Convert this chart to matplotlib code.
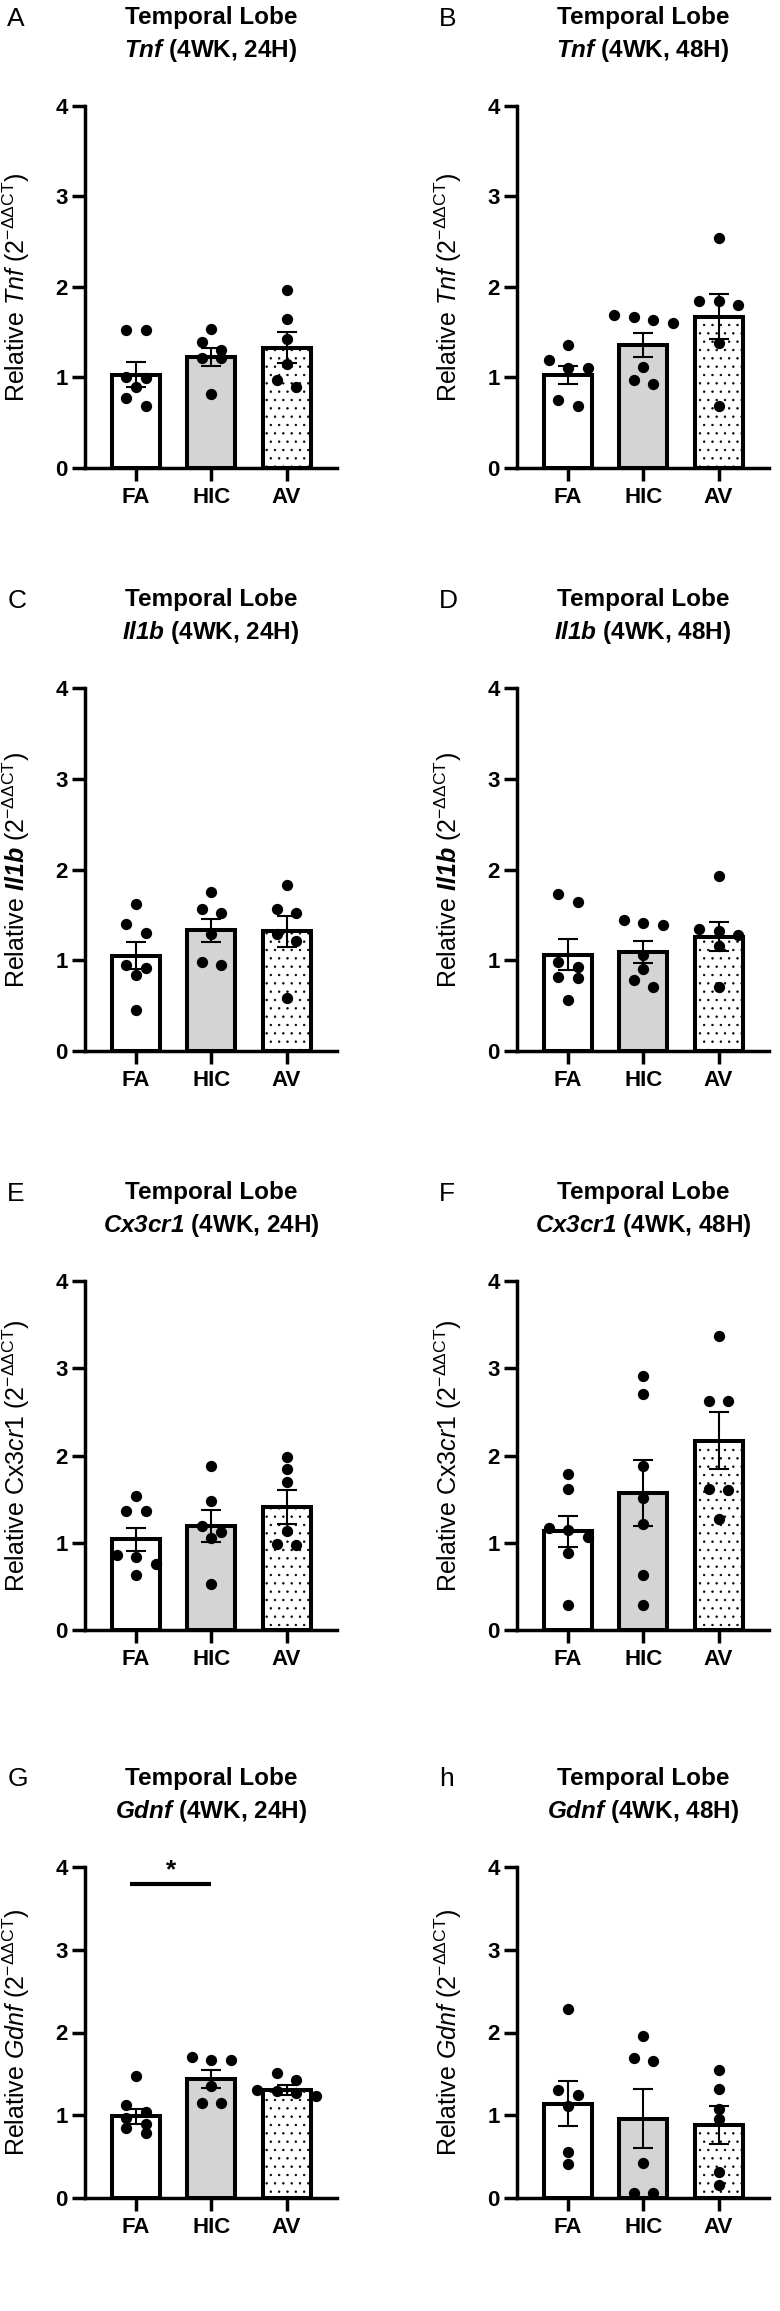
import numpy as np
import matplotlib
matplotlib.use("Agg")
import matplotlib.pyplot as plt

plt.rcParams['font.family'] = ['Liberation Sans', 'DejaVu Sans']
plt.rcParams['mathtext.fontset'] = 'custom'
plt.rcParams['mathtext.rm'] = 'Liberation Sans'
plt.rcParams['mathtext.it'] = 'Liberation Sans:italic'
plt.rcParams['mathtext.bf'] = 'Liberation Sans:bold'
plt.rcParams['mathtext.bfit'] = 'Liberation Sans:italic:bold'
plt.rcParams['hatch.linewidth'] = 0.5

GROUPS = ["FA", "HIC", "AV"]

# Tnf
tnf_24h_points = [[1.52, 1.52, 1.01, 0.99, 0.90, 0.77, 0.69],
                  [1.54, 1.39, 1.30, 1.22, 1.21, 0.82],
                  [1.97, 1.65, 1.43, 1.15, 0.97, 0.90]]
tnf_24h_mean = [1.03, 1.23, 1.33]
tnf_24h_sem = [0.14, 0.10, 0.17]

tnf_48h_points = [[1.36, 1.19, 1.10, 1.10, 0.75, 0.69],
                  [1.69, 1.67, 1.63, 1.60, 1.12, 0.97, 0.93],
                  [2.54, 1.85, 1.85, 1.80, 1.38, 0.69]]
tnf_48h_mean = [1.03, 1.36, 1.67]
tnf_48h_sem = [0.10, 0.13, 0.25]

# Il1b
il1b_24h_points = [[1.62, 1.40, 1.30, 0.95, 0.91, 0.84, 0.45],
                   [1.75, 1.56, 1.52, 1.29, 0.98, 0.95],
                   [1.83, 1.56, 1.52, 1.29, 1.21, 0.58]]
il1b_24h_mean = [1.05, 1.33, 1.32]
il1b_24h_sem = [0.15, 0.13, 0.17]

il1b_48h_points = [[1.73, 1.64, 0.98, 0.93, 0.82, 0.80, 0.56],
                   [1.44, 1.41, 1.39, 1.06, 0.90, 0.78, 0.71],
                   [1.93, 1.34, 1.32, 1.28, 1.16, 0.71]]
il1b_48h_mean = [1.06, 1.09, 1.26]
il1b_48h_sem = [0.17, 0.12, 0.16]

# Cx3cr1
cx3cr1_24h_points = [[1.54, 1.36, 1.36, 0.86, 0.84, 0.76, 0.63],
                     [1.88, 1.48, 1.19, 1.12, 1.05, 0.53],
                     [1.98, 1.84, 1.70, 1.14, 0.98, 0.97]]
cx3cr1_24h_mean = [1.04, 1.19, 1.41]
cx3cr1_24h_sem = [0.13, 0.18, 0.19]

cx3cr1_48h_points = [[1.79, 1.62, 1.17, 1.15, 1.07, 0.88, 0.29],
                     [2.91, 2.70, 1.88, 1.51, 1.22, 0.63, 0.29],
                     [3.37, 2.62, 2.62, 1.62, 1.60, 1.27]]
cx3cr1_48h_mean = [1.13, 1.57, 2.17]
cx3cr1_48h_sem = [0.18, 0.38, 0.33]

# Gdnf
gdnf_24h_points = [[1.47, 1.12, 1.04, 0.97, 0.90, 0.84, 0.78],
                   [1.70, 1.67, 1.67, 1.35, 1.15, 1.15],
                   [1.51, 1.42, 1.31, 1.29, 1.27, 1.23]]
gdnf_24h_mean = [0.99, 1.44, 1.31]
gdnf_24h_sem = [0.09, 0.11, 0.06]

gdnf_48h_points = [[2.28, 1.31, 1.25, 1.11, 0.55, 0.41],
                   [1.96, 1.69, 1.65, 0.42, 0.06, 0.06],
                   [1.55, 1.32, 1.07, 0.96, 0.32, 0.16]]
gdnf_48h_mean = [1.14, 0.96, 0.88]
gdnf_48h_sem = [0.27, 0.36, 0.23]

# significance (group i, group j, level, label) for Gdnf 24H
gdnf_24h_sig = (0, 1, 3.79, "*")

# Layout in pixels of the 780x2311 figure
FIG_W, FIG_H = 780, 2311
COL_LEFT = [85, 517]
AX_W = 252
ROW_TOP = [106, 688, 1281, 1867]
ROW_H = [362, 363, 349, 331]

BAR_FILLS = ["white", "#d4d4d4", "white"]
BAR_HATCH = [None, None, ".."]


def swarm_offsets(values, gap=0.1, step=0.26):
    """Spread points of similar value symmetrically around the bar centre."""
    values = np.asarray(values)
    order = np.argsort(-values, kind="stable")
    offsets = np.zeros(len(values))
    rows = []
    row = [order[0]]
    for idx in order[1:]:
        if values[row[0]] - values[idx] < gap:
            row.append(idx)
        else:
            rows.append(row)
            row = [idx]
    rows.append(row)
    for row in rows:
        n = len(row)
        for i, idx in enumerate(row):
            offsets[idx] = (i - (n - 1) / 2) * step
    return offsets


def draw_panel(fig, row, col, letter, gene_title, gene_label, time,
               points, mean, sem, sig=None):
    left = COL_LEFT[col] / FIG_W
    bottom = 1 - (ROW_TOP[row] + ROW_H[row]) / FIG_H
    ax = fig.add_axes([left, bottom, AX_W / FIG_W, ROW_H[row] / FIG_H])
    x = np.arange(len(GROUPS))

    bars = ax.bar(x, mean, width=0.64, color=BAR_FILLS, edgecolor="black",
                  linewidth=2.9, zorder=2)
    for patch, h in zip(bars, BAR_HATCH):
        if h:
            patch.set_hatch(h)
    ax.errorbar(x, mean, yerr=sem, fmt="none", ecolor="black",
                elinewidth=1.5, capsize=7, capthick=1.5, zorder=3)
    for i, pts in enumerate(points):
        ax.scatter(i + swarm_offsets(pts), pts, s=66, color="black",
                   linewidths=0, zorder=4, clip_on=False)

    if sig is not None:
        i, j, level, label = sig
        ax.plot([i - 0.08, j], [level, level], color="black", lw=3,
                solid_capstyle="butt", clip_on=False)
        ax.text((i + j) / 2 - 0.04, level + 0.02, label, ha="center",
                va="bottom", fontsize=19, fontweight="bold")

    ax.set_xlim(-0.68, 2.67)
    ax.set_ylim(0, 4)
    ax.set_yticks([0, 1, 2, 3, 4])
    ax.set_xticks(x)
    ax.set_xticklabels(GROUPS)
    for side in ("top", "right"):
        ax.spines[side].set_visible(False)
    for side in ("left", "bottom"):
        ax.spines[side].set_linewidth(2.5)
    ax.tick_params(axis="both", length=9.5, width=2.5, labelsize=16)
    ax.tick_params(axis="x", pad=4)
    ax.tick_params(axis="y", pad=3)
    for lab in ax.get_xticklabels() + ax.get_yticklabels():
        lab.set_fontweight("bold")

    ax.set_ylabel("Relative " + gene_label +
                  r" (2$^{\mathrm{-\Delta\Delta CT}}$)", fontsize=18)
    ax.yaxis.set_label_coords(-0.21, 0.5)

    ax.annotate("Temporal Lobe", xy=(0.5, 1), xycoords="axes fraction",
                xytext=(0, 64), textcoords="offset points", ha="center",
                va="center", fontsize=17.5, fontweight="bold")
    ax.annotate(gene_title + " (4WK, " + time + ")", xy=(0.5, 1),
                xycoords="axes fraction", xytext=(0, 40),
                textcoords="offset points", ha="center", va="center",
                fontsize=17.5, fontweight="bold")
    ax.annotate(letter, xy=(0, 1), xycoords="axes fraction",
                xytext=(-56, 63), textcoords="offset points", ha="left",
                va="center", fontsize=19)
    return ax


fig = plt.figure(figsize=(FIG_W / 100, FIG_H / 100), dpi=100)

draw_panel(fig, 0, 0, "A", r"$\mathbfit{Tnf}$", r"$\mathit{Tnf}$", "24H",
           tnf_24h_points, tnf_24h_mean, tnf_24h_sem)
draw_panel(fig, 0, 1, "B", r"$\mathbfit{Tnf}$", r"$\mathit{Tnf}$", "48H",
           tnf_48h_points, tnf_48h_mean, tnf_48h_sem)
draw_panel(fig, 1, 0, "C", r"$\mathbfit{Il1b}$", r"$\mathbfit{Il1b}$", "24H",
           il1b_24h_points, il1b_24h_mean, il1b_24h_sem)
draw_panel(fig, 1, 1, "D", r"$\mathbfit{Il1b}$", r"$\mathbfit{Il1b}$", "48H",
           il1b_48h_points, il1b_48h_mean, il1b_48h_sem)
draw_panel(fig, 2, 0, "E", r"$\mathbfit{Cx3cr1}$", r"Cx3$\mathit{cr1}$", "24H",
           cx3cr1_24h_points, cx3cr1_24h_mean, cx3cr1_24h_sem)
draw_panel(fig, 2, 1, "F", r"$\mathbfit{Cx3cr1}$", r"Cx3$\mathit{cr1}$", "48H",
           cx3cr1_48h_points, cx3cr1_48h_mean, cx3cr1_48h_sem)
draw_panel(fig, 3, 0, "G", r"$\mathbfit{Gdnf}$", r"$\mathit{Gdnf}$", "24H",
           gdnf_24h_points, gdnf_24h_mean, gdnf_24h_sem, sig=gdnf_24h_sig)
draw_panel(fig, 3, 1, "h", r"$\mathbfit{Gdnf}$", r"$\mathit{Gdnf}$", "48H",
           gdnf_48h_points, gdnf_48h_mean, gdnf_48h_sem)

fig.savefig("out.png", dpi=100)
